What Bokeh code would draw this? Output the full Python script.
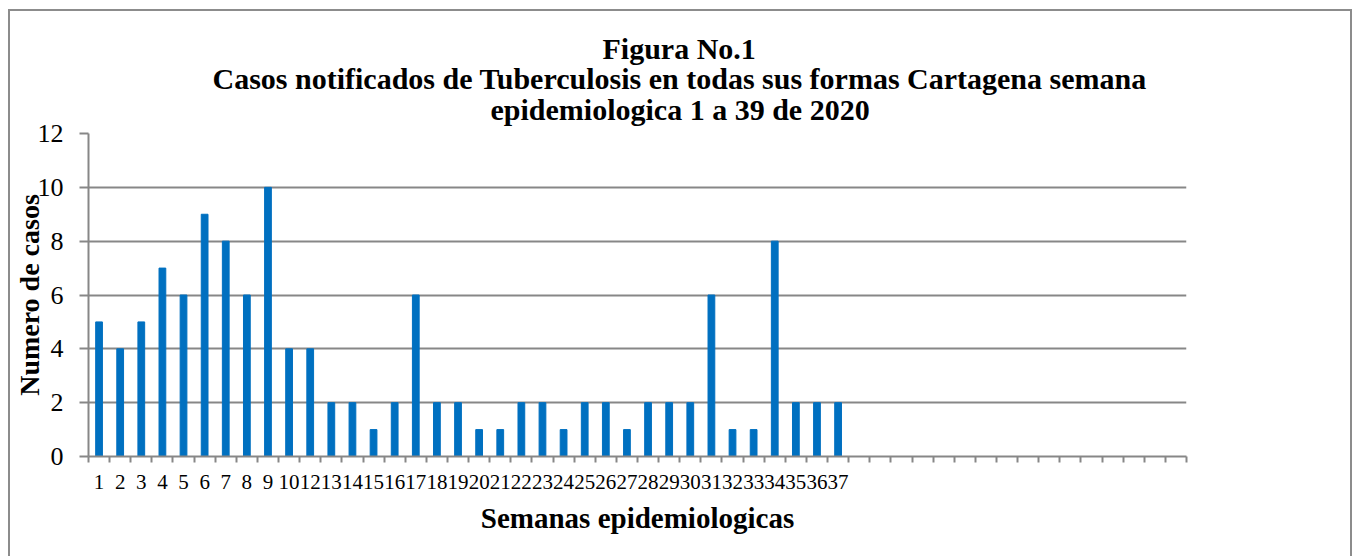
from bokeh.plotting import figure
from bokeh.models import Range1d, FixedTicker, Title
from bokeh.embed import file_html
from bokeh.resources import INLINE

# ---- data ----
semanas = ["1", "2", "3", "4", "5", "6", "7", "8", "9", "10",
           "12", "13", "14", "15", "16", "17", "18", "19", "20", "21",
           "22", "23", "24", "25", "26", "27", "28", "29", "30", "31",
           "32", "33", "34", "35", "36", "37"]
casos = [5, 4, 5, 7, 6, 9, 8, 6, 10, 4,
         4, 2, 2, 1, 2, 6, 2, 2, 1, 1,
         2, 2, 1, 2, 2, 1, 2, 2, 2, 6,
         1, 1, 8, 2, 2, 2]
n_categorias = 52
y_ticks = [0, 2, 4, 6, 8, 10, 12]

titulo = ["Figura No.1",
          "Casos notificados de Tuberculosis en todas sus formas Cartagena semana",
          "epidemiologica  1 a  39 de 2020"]

SERIF = "Liberation Serif"
GRAY = "#878787"

W, H = 1344, 547
p = figure(width=W, height=H, x_range=Range1d(0, n_categorias), y_range=Range1d(0, 12),
           output_backend="svg", toolbar_location=None,
           min_border_left=74, min_border_right=168, min_border_top=122, min_border_bottom=102)
p.margin = (9, 0, 0, 8)
p.outline_line_color = None
p.background_fill_color = "white"
p.border_fill_color = "white"
p.styles = {"border": "2px solid #8c8c8c", "border-bottom": "none", "box-sizing": "border-box"}

centers = [i + 0.5 for i in range(len(semanas))]
p.vbar(x=centers, top=casos, width=0.32, bottom=0, color="#0070C0")

# y axis
p.yaxis.ticker = FixedTicker(ticks=y_ticks)
p.yaxis.axis_line_color = GRAY
p.yaxis.axis_line_width = 2
p.yaxis.major_tick_line_color = GRAY
p.yaxis.major_tick_line_width = 2
p.yaxis.major_tick_out = 9
p.yaxis.major_tick_in = 0
p.yaxis.minor_tick_line_color = None
p.yaxis.major_label_text_font = SERIF
p.yaxis.major_label_text_font_size = "26px"
p.yaxis.major_label_text_color = "black"
p.yaxis.major_label_standoff = 16
p.yaxis.axis_label = "Numero de casos"
p.yaxis.axis_label_text_font = SERIF
p.yaxis.axis_label_text_font_style = "bold"
p.yaxis.axis_label_text_font_size = "28px"
p.yaxis.axis_label_text_color = "black"
p.yaxis.axis_label_standoff = -10

# x axis
p.xaxis.ticker = FixedTicker(ticks=centers, minor_ticks=list(range(n_categorias + 1)))
p.xaxis.major_label_overrides = {c: s for c, s in zip(centers, semanas)}
p.xaxis.axis_line_color = GRAY
p.xaxis.axis_line_width = 2
p.xaxis.major_tick_line_color = None
p.xaxis.major_tick_out = 0
p.xaxis.major_tick_in = 0
p.xaxis.minor_tick_line_color = GRAY
p.xaxis.minor_tick_line_width = 2
p.xaxis.minor_tick_out = 6
p.xaxis.minor_tick_in = 0
p.xaxis.major_label_text_font = SERIF
p.xaxis.major_label_text_font_size = "21px"
p.xaxis.major_label_text_color = "black"
p.xaxis.major_label_standoff = 12
p.xaxis.axis_label = "Semanas epidemiologicas"
p.xaxis.axis_label_text_font = SERIF
p.xaxis.axis_label_text_font_style = "bold"
p.xaxis.axis_label_text_font_size = "29px"
p.xaxis.axis_label_text_color = "black"
p.xaxis.axis_label_standoff = 10

p.xgrid.grid_line_color = None
p.ygrid.grid_line_color = GRAY
p.ygrid.grid_line_width = 2

# title lines, added bottom-up so the first line ends on top;
# left-aligned with offsets so each line is centred at the same x
title_offsets = [514, 124, 402]
title_standoffs = [14, -24, 16]
for t, off, so in reversed(list(zip(titulo, title_offsets, title_standoffs))):
    p.add_layout(Title(text=t, align="left", offset=off, text_font=SERIF,
                       text_font_style="bold", text_font_size="30px",
                       text_color="black", standoff=so), "above")

open("out.html", "w").write(file_html(p, INLINE))
